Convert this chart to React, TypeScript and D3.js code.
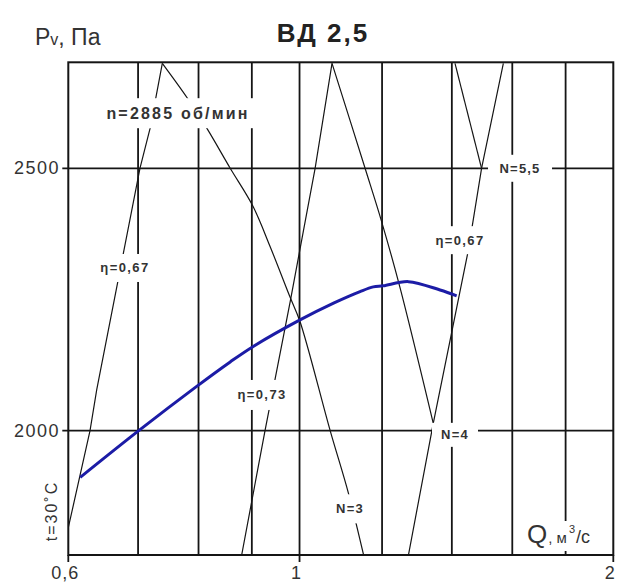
import React from 'react';
import * as d3 from 'd3';

// ---- axis data ----
const X_TICKS = [0.6, 1, 2];
const X_TICK_LABELS = ['0,6', '1', '2'];
const X_GRID = [0.7, 0.8, 0.9, 1, 1.2, 1.4, 1.6, 1.8];
const Y_TICKS = [2000, 2500];
const Y_TICK_LABELS = ['2000', '2500'];

// ---- fan characteristic Pv(Q) ----
const Q_PV = [0.616, 0.701, 0.795, 0.858, 0.902, 1.001, 1.078, 1.143, 1.177, 1.203, 1.272, 1.364, 1.415];
const P_PV = [1911, 2000, 2083, 2131, 2160, 2211, 2243, 2265, 2274, 2276, 2284, 2268, 2257];

// ---- efficiency lines ----
const Q_ETA67_L = [0.6, 0.6295, 0.6389, 0.7029, 0.7188, 0.7385];
const P_ETA67_L = [1815, 2000, 2078, 2500, 2576, 2700];
const Q_ETA73 = [0.88, 0.9266, 0.98, 1.035, 1.0744];
const P_ETA73 = [1763, 2000, 2248, 2500, 2700];
const Q_ETA67_R = [1.272, 1.3437, 1.452, 1.495, 1.5687];
const P_ETA67_R = [1763, 2014, 2344, 2500, 2700];

// ---- power lines ----
const Q_N3 = [0.7385, 0.781, 0.815, 0.858, 0.902, 0.937, 0.979, 1.001, 1.07, 1.114, 1.152];
const P_N3 = [2700, 2633, 2576, 2500, 2428, 2351, 2255, 2208, 2000, 1881, 1763];
const Q_N4 = [1.0744, 1.1558, 1.199, 1.248, 1.3437];
const P_N4 = [2700, 2500, 2398, 2274, 2014];
const Q_N55 = [1.4098, 1.495];
const P_N55 = [2700, 2500];

// ---- annotations (anchored in data space) ----
const ANN_TEXT = ['n=2885 об/мин', 'η=0,67', 'η=0,73', 'η=0,67', 'N=3', 'N=4', 'N=5,5'];
const ANN_Q = [0.7645, 0.68, 0.9205, 1.4255, 1.118, 1.4098, 1.6276];
const ANN_P = [2605, 2310, 2068, 2363, 1851, 1992, 2500];

const W = 621;
const H = 585;
const L = 68.3, R = 613.3, T = 62.3, B = 555;
const FONT = '"Liberation Sans", Arial, Helvetica, sans-serif';

const zip = (qs: number[], ps: number[]) => qs.map((q, i) => [q, ps[i]] as [number, number]);

export default function App() {
  const x = d3.scaleLog().domain([0.6, 2]).range([L, R]);
  const y = d3.scaleLinear().domain([1763, 2702]).range([B, T]);

  const lin = d3.line<[number, number]>().x(d => x(d[0])).y(d => y(d[1]));
  const smooth = d3
    .line<[number, number]>()
    .x(d => x(d[0]))
    .y(d => y(d[1]))
    .curve(d3.curveCatmullRom.alpha(0.5));

  const thinLines = [
    lin(zip(Q_ETA67_L, P_ETA67_L)),
    lin(zip(Q_ETA73, P_ETA73)),
    lin(zip(Q_ETA67_R, P_ETA67_R)),
    smooth(zip(Q_N3, P_N3)),
    smooth(zip(Q_N4, P_N4)),
    lin(zip(Q_N55, P_N55)),
  ];
  const pvPath = smooth(zip(Q_PV, P_PV));

  const annSize = [
    { w: 158, h: 30, fs: 16, ls: 2.2 },
    { w: 60, h: 28, fs: 13, ls: 1.4 },
    { w: 60, h: 30, fs: 13, ls: 1.4 },
    { w: 60, h: 28, fs: 13, ls: 1.4 },
    { w: 34, h: 29, fs: 13, ls: 1.2 },
    { w: 46, h: 24, fs: 13, ls: 1.2 },
    { w: 64, h: 27, fs: 13, ls: 1.2 },
  ];

  const ink = '#151515';
  const textInk = '#333';

  return (
    <svg
      width={W}
      height={H}
      viewBox={`0 0 ${W} ${H}`}
      style={{ position: 'absolute', left: 0, top: 0, background: '#fff' }}
      fontFamily={FONT}
    >
      <defs>
        <clipPath id="plotClip">
          <rect x={L} y={T} width={R - L} height={B - T} />
        </clipPath>
      </defs>
      <rect x={0} y={0} width={W} height={H} fill="#fff" />

      {/* grid */}
      {X_GRID.map(v => (
        <line key={'gx' + v} x1={x(v)} x2={x(v)} y1={T} y2={B} stroke={ink} strokeWidth={1.8} />
      ))}
      {Y_TICKS.map(v => (
        <line key={'gy' + v} x1={L - 6} x2={R} y1={y(v)} y2={y(v)} stroke={ink} strokeWidth={1.8} />
      ))}
      {X_TICKS.map(v => (
        <line key={'tx' + v} x1={x(v)} x2={x(v)} y1={B} y2={B + 7} stroke={ink} strokeWidth={1.8} />
      ))}

      {/* curves */}
      <g clipPath="url(#plotClip)">
        {thinLines.map((d, i) => (
          <path key={'tl' + i} d={d || ''} fill="none" stroke={ink} strokeWidth={1.2} />
        ))}
        <path d={pvPath || ''} fill="none" stroke="#1c1ca6" strokeWidth={3} strokeLinejoin="round" />
      </g>

      {/* annotations */}
      {ANN_TEXT.map((t, i) => {
        const cx = x(ANN_Q[i]);
        const cy = y(ANN_P[i]);
        const s = annSize[i];
        return (
          <g key={'ann' + i}>
            <rect x={cx - s.w / 2} y={cy - s.h / 2} width={s.w} height={s.h} fill="#fff" />
            <text
              x={cx}
              y={cy}
              textAnchor="middle"
              dominantBaseline="central"
              fontSize={s.fs}
              fontWeight="bold"
              letterSpacing={s.ls}
              fill={textInk}
            >
              {t}
            </text>
          </g>
        );
      })}

      {/* Q axis label */}
      <rect x={521} y={521} width={88} height={30} fill="#fff" />
      <text x={527} y={543} fill={textInk}>
        <tspan fontSize={26}>Q</tspan>
        <tspan fontSize={15} dx={1}>, м</tspan>
        <tspan fontSize={11} dy={-10} dx={2}>3</tspan>
        <tspan fontSize={18} dy={10} dx={1}>/с</tspan>
      </text>

      {/* border */}
      <rect x={L} y={T} width={R - L} height={B - T} fill="none" stroke={ink} strokeWidth={2} />

      {/* tick labels */}
      {Y_TICKS.map((v, i) => (
        <text
          key={'yl' + v}
          x={60}
          y={y(v)}
          textAnchor="end"
          dominantBaseline="central"
          fontSize={18}
          letterSpacing={1.5}
          fill={textInk}
        >
          {Y_TICK_LABELS[i]}
        </text>
      ))}
      {X_TICKS.map((v, i) => (
        <text
          key={'xl' + v}
          x={x(v) - 3}
          y={579}
          textAnchor="middle"
          fontSize={18}
          letterSpacing={1}
          fill={textInk}
        >
          {X_TICK_LABELS[i]}
        </text>
      ))}

      {/* axis titles */}
      <text x={35} y={45} fill={textInk} fontSize={23}>
        <tspan>P</tspan>
        <tspan fontSize={16}>v</tspan>
        <tspan>, Па</tspan>
      </text>
      <text x={323} y={42} textAnchor="middle" fontSize={26} fontWeight="bold" letterSpacing={2} fill="#222">
        ВД 2,5
      </text>
      <text
        transform="translate(57,511) rotate(-90)"
        textAnchor="middle"
        fontSize={16}
        letterSpacing={2}
        fill={textInk}
      >
        t=30˚C
      </text>
    </svg>
  );
}
